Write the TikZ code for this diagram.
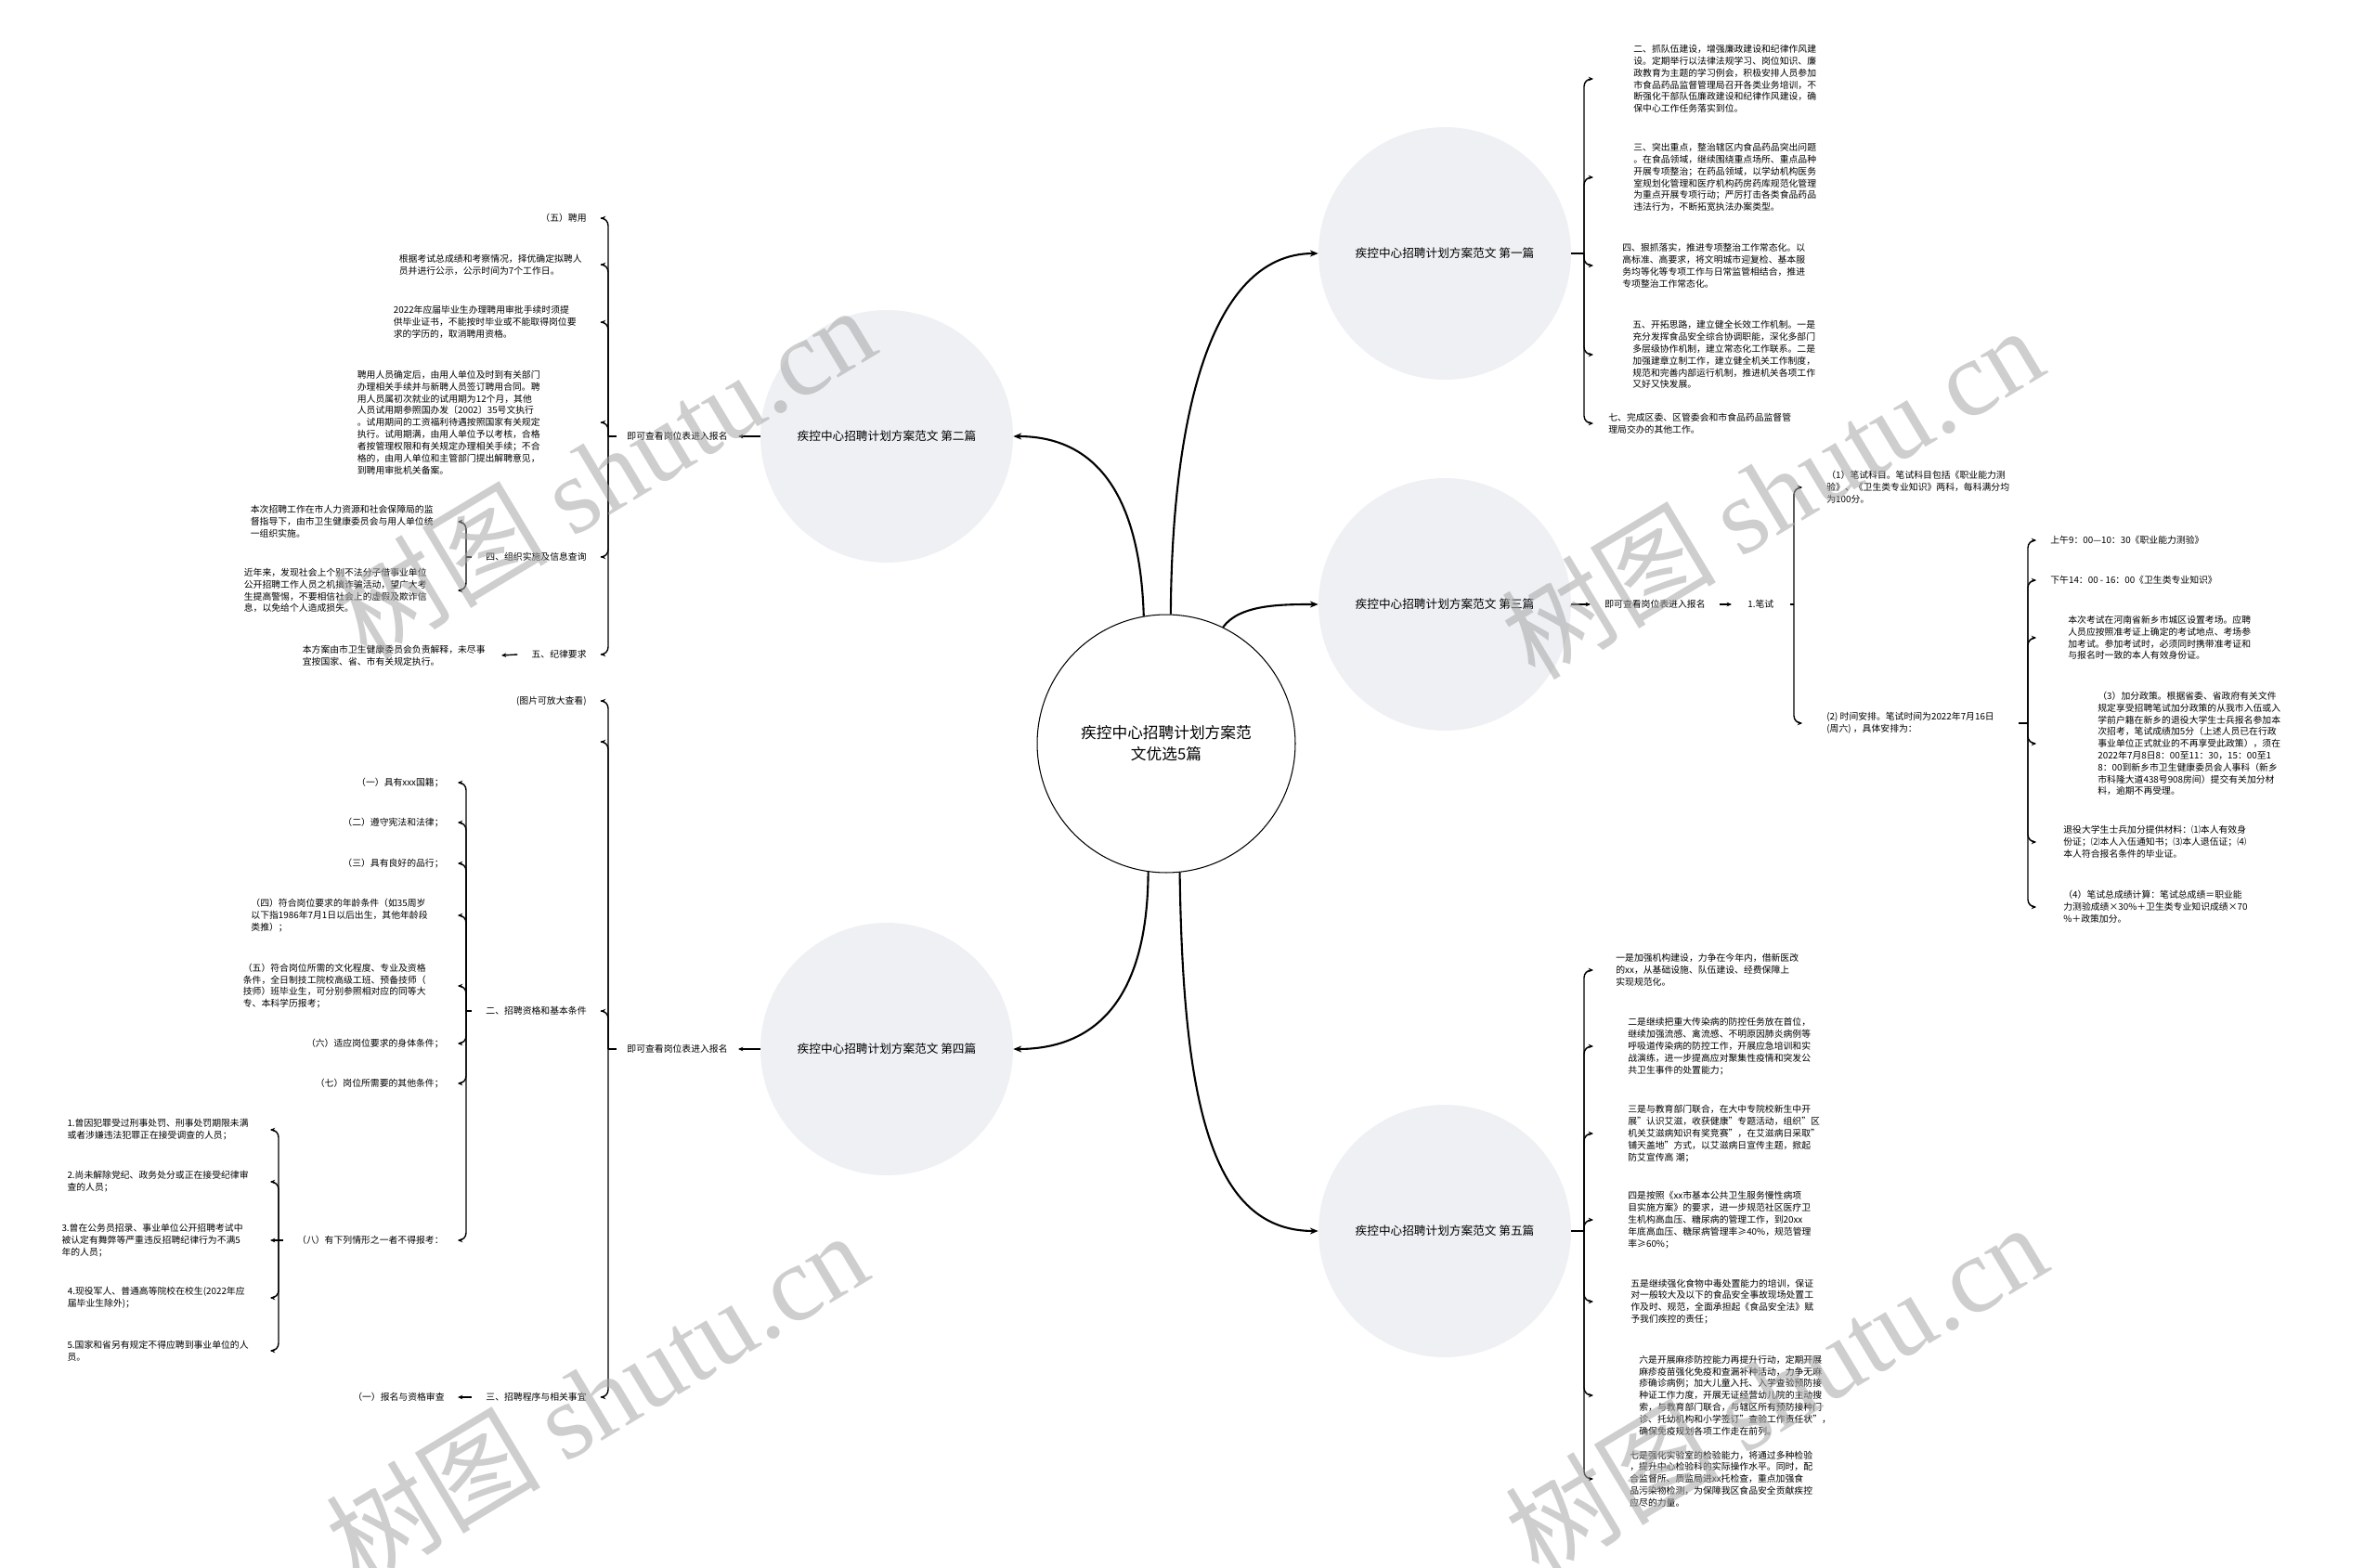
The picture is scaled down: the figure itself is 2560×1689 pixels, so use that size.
\documentclass[tikz,border=0pt]{standalone}
\usepackage{fontspec}
\setmainfont{Noto Sans CJK SC}
\newfontfamily\markfont{Liberation Serif}
\usetikzlibrary{arrows.meta}
\definecolor{partfill}{HTML}{EEF0F3}

\begin{document}
\begin{tikzpicture}[
      x=0.02cm, y=-0.02cm,
      >={Stealth[length=3pt,width=2.6pt]},
      hub/.style={circle, draw, line width=0.6pt, minimum size=5.56cm, align=center, font=\fontsize{9.5}{13.2}\selectfont},
      chapter/.style={circle, fill=partfill, minimum size=5.44cm, font=\fontsize{7.2}{9}\selectfont},
      entry/.style={inner ysep=0pt, inner xsep=#1, align=left, font=\fontsize{5.6}{7.3}\selectfont},
      spoke/.style={-{Stealth[length=5pt,width=4pt]}, line width=1.2pt},
      stub/.style={line width=0.8pt},
      branch/.style={->, line width=0.8pt, rounded corners=0.16cm},
      wmark/.style={rotate=31, text=black!35, text opacity=0.55, font=\fontsize{66}{70}\selectfont}
  ]
  \fill[white] (0,0) rectangle (2560,1689);
  \useasboundingbox (0,0) rectangle (2560,1689);

  % Centre and the five chapters
  \node[hub] (hub) at (1256,801) {疾控中心招聘计划方案范\\文优选5篇};
  \node[chapter] (p1) at (1556,273) {疾控中心招聘计划方案范文 第一篇};
  \node[chapter] (p3) at (1556,651) {疾控中心招聘计划方案范文 第三篇};
  \node[chapter] (p5) at (1556,1326) {疾控中心招聘计划方案范文 第五篇};
  \node[chapter] (p2) at (955,470) {疾控中心招聘计划方案范文 第二篇};
  \node[chapter] (p4) at (955,1130) {疾控中心招聘计划方案范文 第四篇};

  \draw[spoke] (hub.88) .. controls (1262,460) and (1300,273) .. (p1.west);
  \draw[spoke] (hub.64) .. controls (1335,651) and (1380,651) .. (p3.west);
  \draw[spoke] (hub.276) .. controls (1274,1190) and (1305,1326) .. (p5.west);
  \draw[spoke] (hub.100) .. controls (1228,540) and (1185,470) .. (p2.east);
  \draw[spoke] (hub.262) .. controls (1236,1070) and (1185,1130) .. (p4.east);

  % Junctions of the brackets
  \coordinate (j1) at (1706,273);
  \coordinate (j5) at (1706,1326);
  \coordinate (j3) at (1932,651);
  \coordinate (j32) at (2184,779);
  \coordinate (j2) at (655,470);
  \coordinate (j25) at (502,600);
  \coordinate (j4) at (655,1130);
  \coordinate (j43) at (502,1089);
  \coordinate (j438) at (300,1336);

  % Chapter one
  \node[entry=0.86cm, anchor=west] (c11) at (1716,85) {二、抓队伍建设，增强廉政建设和纪律作风建\\设。定期举行以法律法规学习、岗位知识、廉\\政教育为主题的学习例会，积极安排人员参加\\市食品药品监督管理局召开各类业务培训，不\\断强化干部队伍廉政建设和纪律作风建设，确\\保中心工作任务落实到位。};
  \node[entry=0.86cm, anchor=west] (c12) at (1716,191) {三、突出重点，整治辖区内食品药品突出问题\\。在食品领域，继续围绕重点场所、重点品种\\开展专项整治；在药品领域，以学幼机构医务\\室规划化管理和医疗机构药房药库规范化管理\\为重点开展专项行动；严厉打击各类食品药品\\违法行为，不断拓宽执法办案类型。};
  \node[entry=0.62cm, anchor=west] (c13) at (1716,286) {四、狠抓落实，推进专项整治工作常态化。以\\高标准、高要求，将文明城市迎复检、基本服\\务均等化等专项工作与日常监管相结合，推进\\专项整治工作常态化。};
  \node[entry=0.84cm, anchor=west] (c14) at (1716,382) {五、开拓思路，建立健全长效工作机制。一是\\充分发挥食品安全综合协调职能，深化多部门\\多层级协作机制，建立常态化工作联系。二是\\加强建章立制工作，建立健全机关工作制度，\\规范和完善内部运行机制，推进机关各项工作\\又好又快发展。};
  \node[entry=0.32cm, anchor=west] (c15) at (1716,456) {七、完成区委、区管委会和市食品药品监督管\\理局交办的其他工作。};

  \draw[stub] (p1.east) -- (j1);
  \draw[branch] (j1) |- (c11.west);
  \draw[branch] (j1) |- (c12.west);
  \draw[branch] (j1) |- (c13.west);
  \draw[branch] (j1) |- (c14.west);
  \draw[branch] (j1) |- (c15.west);

  % Chapter three
  \node[entry=0.3cm, anchor=west] (reg3) at (1713,651) {即可查看岗位表进入报名};
  \node[entry=0.34cm, anchor=west] (exam) at (1865,651) {1.笔试};
  \node[entry=0.52cm, anchor=west] (c31) at (1941,525) {（1）笔试科目。笔试科目包括《职业能力测\\验》、《卫生类专业知识》两科，每科满分均\\为100分。};
  \node[entry=0.52cm, anchor=west] (c32) at (1941,779) {(2) 时间安排。笔试时间为2022年7月16日\\(周六) ，具体安排为：};
  \node[entry=0.3cm, anchor=west] (c321) at (2193,582) {上午9：00—10：30《职业能力测验》};
  \node[entry=0.3cm, anchor=west] (c322) at (2193,625) {下午14：00 - 16：00《卫生类专业知识》};
  \node[entry=0.68cm, anchor=west] (c323) at (2193,687) {本次考试在河南省新乡市城区设置考场。应聘\\人员应按照准考证上确定的考试地点、考场参\\加考试。参加考试时，必须同时携带准考证和\\与报名时一致的本人有效身份证。};
  \node[entry=1.32cm, anchor=west] (c324) at (2193,801) {（3）加分政策。根据省委、省政府有关文件\\规定享受招聘笔试加分政策的从我市入伍或入\\学前户籍在新乡的退役大学生士兵报名参加本\\次招考，笔试成绩加5分（上述人员已在行政\\事业单位正式就业的不再享受此政策），须在\\2022年7月8日8：00至11：30，15：00至1\\8：00到新乡市卫生健康委员会人事科（新乡\\市科隆大道438号908房间）提交有关加分材\\料，逾期不再受理。};
  \node[entry=0.58cm, anchor=west] (c325) at (2193,907) {退役大学生士兵加分提供材料：⑴本人有效身\\份证；⑵本人入伍通知书；⑶本人退伍证；⑷\\本人符合报名条件的毕业证。};
  \node[entry=0.58cm, anchor=west] (c326) at (2193,977) {（4）笔试总成绩计算：笔试总成绩＝职业能\\力测验成绩×30\%＋卫生类专业知识成绩×70\\\%＋政策加分。};

  \draw[->, line width=0.8pt] (p3.east) -- (reg3.west);
  \draw[->, line width=0.8pt] (reg3.east) -- (exam.west);
  \draw[stub] (exam.east) -- (j3);
  \draw[branch] (j3) |- (c31.west);
  \draw[branch] (j3) |- (c32.west);
  \draw[stub] (c32.east) -- (j32);
  \draw[branch] (j32) |- (c321.west);
  \draw[branch] (j32) |- (c322.west);
  \draw[branch] (j32) |- (c323.west);
  \draw[branch] (j32) |- (c324.west);
  \draw[branch] (j32) |- (c325.west);
  \draw[branch] (j32) |- (c326.west);

  % Chapter five
  \node[entry=0.48cm, anchor=west] (c51) at (1716,1045) {一是加强机构建设，力争在今年内，借新医改\\的xx，从基础设施、队伍建设、经费保障上\\实现规范化。};
  \node[entry=0.74cm, anchor=west] (c52) at (1716,1127) {二是继续把重大传染病的防控任务放在首位，\\继续加强流感、禽流感、不明原因肺炎病例等\\呼吸道传染病的防控工作，开展应急培训和实\\战演练，进一步提高应对聚集性疫情和突发公\\共卫生事件的处置能力；};
  \node[entry=0.74cm, anchor=west] (c53) at (1716,1221) {三是与教育部门联合，在大中专院校新生中开\\展"认识艾滋，收获健康"专题活动，组织"区\\机关艾滋病知识有奖竞赛"，在艾滋病日采取"\\铺天盖地"方式，以艾滋病日宣传主题，掀起\\防艾宣传高 潮；};
  \node[entry=0.74cm, anchor=west] (c54) at (1716,1314) {四是按照《xx市基本公共卫生服务慢性病项\\目实施方案》的要求，进一步规范社区医疗卫\\生机构高血压、糖尿病的管理工作，到20xx\\年底高血压、糖尿病管理率≥40\%，规范管理\\率≥60\%；};
  \node[entry=0.8cm, anchor=west] (c55) at (1716,1402) {五是继续强化食物中毒处置能力的培训，保证\\对一般较大及以下的食品安全事故现场处置工\\作及时、规范，全面承担起《食品安全法》赋\\予我们疾控的责任；};
  \node[entry=0.98cm, anchor=west] (c56) at (1716,1503) {六是开展麻疹防控能力再提升行动，定期开展\\麻疹疫苗强化免疫和查漏补种活动，力争无麻\\疹确诊病例；加大儿童入托、入学查验预防接\\种证工作力度，开展无证经营幼儿院的主动搜\\索，与教育部门联合，与辖区所有预防接种门\\诊、托幼机构和小学签订"查验工作责任状"，\\确保免疫规划各项工作走在前列。};
  \node[entry=0.78cm, anchor=west] (c57) at (1716,1593) {七是强化实验室的检验能力，将通过多种检验\\，提升中心检验科的实际操作水平。同时，配\\合监督所、质监局进xx托检查，重点加强食\\品污染物检测，为保障我区食品安全贡献疾控\\应尽的力量。};

  \draw[stub] (p5.east) -- (j5);
  \draw[branch] (j5) |- (c51.west);
  \draw[branch] (j5) |- (c52.west);
  \draw[branch] (j5) |- (c53.west);
  \draw[branch] (j5) |- (c54.west);
  \draw[branch] (j5) |- (c55.west);
  \draw[branch] (j5) |- (c56.west);
  \draw[branch] (j5) |- (c57.west);

  % Chapter two
  \node[entry=0.22cm, anchor=east] (reg2) at (795,470) {即可查看岗位表进入报名};
  \node[entry=0.3cm, anchor=east] (c21) at (647,235) {（五）聘用};
  \node[entry=0.4cm, anchor=east] (c22) at (647,285) {根据考试总成绩和考察情况，择优确定拟聘人\\员并进行公示，公示时间为7个工作日。};
  \node[entry=0.52cm, anchor=east] (c23) at (647,347) {2022年应届毕业生办理聘用审批手续时须提\\供毕业证书，不能按时毕业或不能取得岗位要\\求的学历的，取消聘用资格。};
  \node[entry=1.3cm, anchor=east] (c24) at (647,455) {聘用人员确定后，由用人单位及时到有关部门\\办理相关手续并与新聘人员签订聘用合同。聘\\用人员属初次就业的试用期为12个月，其他\\人员试用期参照国办发〔2002〕35号文执行\\。试用期间的工资福利待遇按照国家有关规定\\执行。试用期满，由用人单位予以考核，合格\\者按管理权限和有关规定办理相关手续；不合\\格的，由用人单位和主管部门提出解聘意见，\\到聘用审批机关备案。};
  \node[entry=0.3cm, anchor=east] (c25) at (647,600) {四、组织实施及信息查询};
  \node[entry=0.3cm, anchor=east] (c26) at (647,705) {五、纪律要求};
  \node[entry=0.52cm, anchor=east] (c251) at (493,562) {本次招聘工作在市人力资源和社会保障局的监\\督指导下，由市卫生健康委员会与用人单位统\\一组织实施。};
  \node[entry=0.66cm, anchor=east] (c252) at (493,636) {近年来，发现社会上个别不法分子借事业单位\\公开招聘工作人员之机搞诈骗活动，望广大考\\生提高警惕，不要相信社会上的虚假及欺诈信\\息，以免给个人造成损失。};
  \node[entry=0.34cm, anchor=east] (c261) at (540,706) {本方案由市卫生健康委员会负责解释，未尽事\\宜按国家、省、市有关规定执行。};

  \draw[->, line width=0.8pt] (p2.west) -- (reg2.east);
  \draw[stub] (reg2.west) -- (j2);
  \draw[branch] (j2) |- (c21.east);
  \draw[branch] (j2) |- (c22.east);
  \draw[branch] (j2) |- (c23.east);
  \draw[branch] (j2) |- (c24.east);
  \draw[branch] (j2) |- (c25.east);
  \draw[branch] (j2) |- (c26.east);
  \draw[stub] (c25.west) -- (j25);
  \draw[branch] (j25) |- (c251.east);
  \draw[branch] (j25) |- (c252.east);
  \draw[->, line width=0.8pt] (c26.west) -- (c261.east);

  % Chapter four
  \node[entry=0.22cm, anchor=east] (reg4) at (795,1130) {即可查看岗位表进入报名};
  \node[entry=0.3cm, anchor=east] (c41) at (647,755) {(图片可放大查看)};
  \node[entry=0cm, anchor=east] (c42) at (647,799) {};
  \node[entry=0.3cm, anchor=east] (c43) at (647,1089) {二、招聘资格和基本条件};
  \node[entry=0.3cm, anchor=east] (c44) at (647,1505) {三、招聘程序与相关事宜};
  \node[entry=0.3cm, anchor=east] (c431) at (493,843) {（一）具有xxx国籍；};
  \node[entry=0.3cm, anchor=east] (c432) at (493,886) {（二）遵守宪法和法律；};
  \node[entry=0.3cm, anchor=east] (c433) at (493,930) {（三）具有良好的品行；};
  \node[entry=0.64cm, anchor=east] (c434) at (493,986) {（四）符合岗位要求的年龄条件（如35周岁\\以下指1986年7月1日以后出生，其他年龄段\\类推）；};
  \node[entry=0.68cm, anchor=east] (c435) at (493,1062) {（五）符合岗位所需的文化程度、专业及资格\\条件，全日制技工院校高级工班、预备技师（\\技师）班毕业生，可分别参照相对应的同等大\\专、本科学历报考；};
  \node[entry=0.3cm, anchor=east] (c436) at (493,1124) {（六）适应岗位要求的身体条件；};
  \node[entry=0.3cm, anchor=east] (c437) at (493,1167) {（七）岗位所需要的其他条件；};
  \node[entry=0.3cm, anchor=east] (c438) at (493,1336) {（八）有下列情形之一者不得报考：};
  \node[entry=0.46cm, anchor=east] (c4381) at (291,1217) {1.曾因犯罪受过刑事处罚、刑事处罚期限未满\\或者涉嫌违法犯罪正在接受调查的人员；};
  \node[entry=0.46cm, anchor=east] (c4382) at (291,1273) {2.尚未解除党纪、政务处分或正在接受纪律审\\查的人员；};
  \node[entry=0.58cm, anchor=east] (c4383) at (291,1336) {3.曾在公务员招录、事业单位公开招聘考试中\\被认定有舞弊等严重违反招聘纪律行为不满5\\年的人员；};
  \node[entry=0.54cm, anchor=east] (c4384) at (291,1398) {4.现役军人、普通高等院校在校生(2022年应\\届毕业生除外)；};
  \node[entry=0.46cm, anchor=east] (c4385) at (291,1455) {5.国家和省另有规定不得应聘到事业单位的人\\员。};
  \node[entry=0.28cm, anchor=east] (c441) at (493,1505) {（一）报名与资格审查};

  \draw[->, line width=0.8pt] (p4.west) -- (reg4.east);
  \draw[stub] (reg4.west) -- (j4);
  \draw[branch] (j4) |- (c41.east);
  \draw[branch] (j4) |- (c42.east);
  \draw[branch] (j4) |- (c43.east);
  \draw[branch] (j4) |- (c44.east);
  \draw[stub] (c43.west) -- (j43);
  \draw[branch] (j43) |- (c431.east);
  \draw[branch] (j43) |- (c432.east);
  \draw[branch] (j43) |- (c433.east);
  \draw[branch] (j43) |- (c434.east);
  \draw[branch] (j43) |- (c435.east);
  \draw[branch] (j43) |- (c436.east);
  \draw[branch] (j43) |- (c437.east);
  \draw[branch] (j43) |- (c438.east);
  \draw[stub] (c438.west) -- (j438);
  \draw[branch] (j438) |- (c4381.east);
  \draw[branch] (j438) |- (c4382.east);
  \draw[->, line width=0.8pt] (j438) -- (c4383.east);
  \draw[branch] (j438) |- (c4384.east);
  \draw[branch] (j438) |- (c4385.east);
  \draw[->, line width=0.8pt] (c44.west) -- (c441.east);

  % Watermarks
  \node[wmark] (wm1) at (650,508) {树图 {\markfont shutu.cn}};
  \node[wmark] (wm2) at (1908,530) {树图 {\markfont shutu.cn}};
  \node[wmark] (wm3) at (642,1505) {树图 {\markfont shutu.cn}};
  \node[wmark] (wm4) at (1912,1496) {树图 {\markfont shutu.cn}};

  \end{tikzpicture}
\end{document}
